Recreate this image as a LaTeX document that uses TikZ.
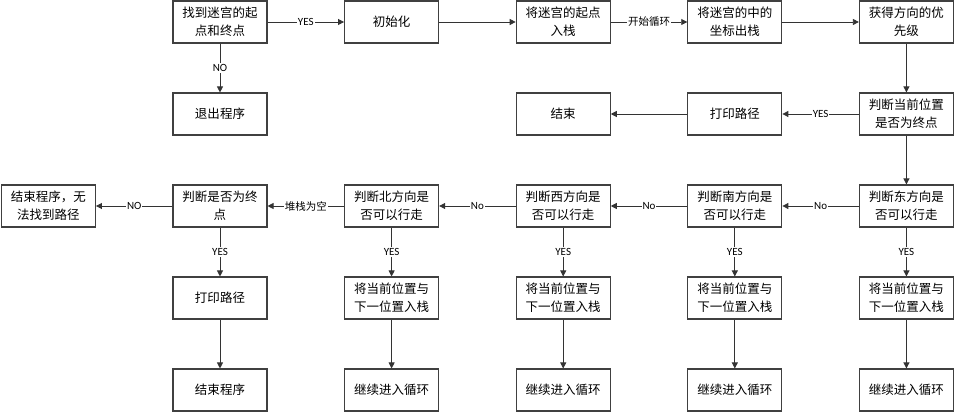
\documentclass[tikz,border=0pt]{standalone}
\usepackage{fontspec}
\setmainfont{Carlito}
\newfontfamily\cjk{Noto Sans CJK SC}
\usetikzlibrary{arrows.meta}

\begin{document}
\begin{tikzpicture}[x=171.6pt, y=-92pt,
        stepbox/.style={draw=black!75, line width=1.1pt, minimum width=94pt, minimum height=42pt,
            align=center, inner sep=1pt, font=\cjk\fontsize{12.5}{18}\selectfont},
        flow/.style={-{Triangle[length=6pt, width=6pt]}, draw=black!80, line width=0.8pt},
        lbl/.style={fill=white, inner sep=1pt, font=\fontsize{11}{11}\selectfont},
        cjklbl/.style={lbl, font=\cjk\fontsize{10.5}{10.5}\selectfont}]
        \useasboundingbox (-1.282, -0.239) rectangle (4.283, 4.239);

        % top row
        \node[stepbox] (find) at (0, 0) {找到迷宫的起\\点和终点};
        \node[stepbox] (init) at (1, 0) {初始化};
        \node[stepbox] (push) at (2, 0) {将迷宫的起点\\入栈};
        \node[stepbox] (pop) at (3, 0) {将迷宫的中的\\坐标出栈};
        \node[stepbox] (prio) at (4, 0) {获得方向的优\\先级};

        % second row
        \node[stepbox] (quit) at (0, 1) {退出程序};
        \node[stepbox] (finish) at (2, 1) {结束};
        \node[stepbox] (print) at (3, 1) {打印路径};
        \node[stepbox] (isend) at (4, 1) {判断当前位置\\是否为终点};

        % directions
        \node[stepbox] (east) at (4, 2) {判断东方向是\\否可以行走};
        \node[stepbox] (south) at (3, 2) {判断南方向是\\否可以行走};
        \node[stepbox] (west) at (2, 2) {判断西方向是\\否可以行走};
        \node[stepbox] (north) at (1, 2) {判断北方向是\\否可以行走};
        \node[stepbox] (empty) at (0, 2) {判断是否为终\\点};
        \node[stepbox] (fail) at (-1, 2) {结束程序，无\\法找到路径};

        \node[stepbox] (printb) at (0, 3) {打印路径};
        \node[stepbox] (stop) at (0, 4) {结束程序};

        \foreach \d/\c in {east/4, south/3, west/2, north/1} {
            \node[stepbox] (push\d) at (\c, 3) {将当前位置与\\下一位置入栈};
            \node[stepbox] (loop\d) at (\c, 4) {继续进入循环};
            \draw[flow] (\d) -- (push\d) node[lbl, midway] {YES};
            \draw[flow] (push\d) -- (loop\d);
        }

        \draw[flow] (find) -- (init) node[lbl, midway] {YES};
        \draw[flow] (find) -- (quit) node[lbl, midway] {NO};
        \draw[flow] (init) -- (push);
        \draw[flow] (push) -- (pop) node[cjklbl, midway] {开始循环};
        \draw[flow] (pop) -- (prio);
        \draw[flow] (prio) -- (isend);
        \draw[flow] (isend) -- (print) node[lbl, midway] {YES};
        \draw[flow] (print) -- (finish);
        \draw[flow] (isend) -- (east);

        \draw[flow] (east) -- (south) node[lbl, midway] {No};
        \draw[flow] (south) -- (west) node[lbl, midway] {No};
        \draw[flow] (west) -- (north) node[lbl, midway] {No};
        \draw[flow] (north) -- (empty) node[cjklbl, midway] {堆栈为空};
        \draw[flow] (empty) -- (fail) node[lbl, midway] {NO};
        \draw[flow] (empty) -- (printb) node[lbl, midway] {YES};
        \draw[flow] (printb) -- (stop);

    \end{tikzpicture}
\end{document}
